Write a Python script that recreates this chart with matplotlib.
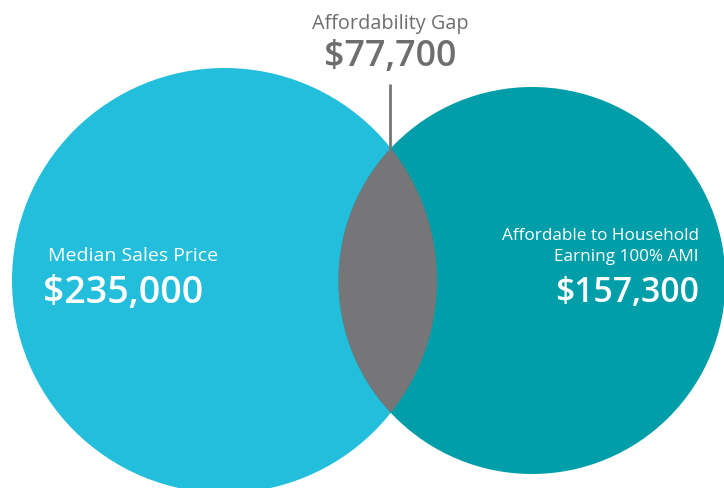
import matplotlib
matplotlib.use('Agg')
import matplotlib.pyplot as plt
from matplotlib.patches import Circle

# --- datos ---
etiquetas = ['Median Sales Price', 'Affordable to Household\nEarning 100% AMI']
valores = [235000, 157300]
etiqueta_gap = 'Affordability Gap'
gap = valores[0] - valores[1]

# --- geometria (pixeles) ---
W, H = 724, 489
c_izq = (224.5, 281.5); r_izq = 212.5
c_der = (532.0, 281.5); r_der = 193.5

col_izq = '#22bedc'
col_der = '#009ea9'
col_gap = '#767678'
col_txt = '#6d6e70'

plt.rcParams['font.family'] = ['Open Sans', 'DejaVu Sans']

fig = plt.figure(figsize=(W / 100, H / 100), dpi=100)
ax = fig.add_axes([0, 0, 1, 1])
ax.set_xlim(0, W)
ax.set_ylim(H, 0)
ax.set_aspect('equal')
ax.axis('off')

circ_izq = Circle(c_izq, r_izq, color=col_izq, lw=0)
circ_der = Circle(c_der, r_der, color=col_der, lw=0)
ax.add_patch(circ_izq)
ax.add_patch(circ_der)

# interseccion: circulo izquierdo gris recortado por el derecho
lente = Circle(c_izq, r_izq, color=col_gap, lw=0)
ax.add_patch(lente)
clip = Circle(c_der, r_der, transform=ax.transData)
lente.set_clip_path(clip)

# linea indicadora
ax.plot([390, 390], [85, 151], color=col_gap, lw=2, solid_capstyle='butt')

# textos
ax.text(390, 29, etiqueta_gap, ha='center', va='baseline', fontsize=14.3, color=col_txt)
ax.text(390, 66, f'${gap:,}', ha='center', va='baseline', fontsize=25.8,
        color=col_txt, fontweight='semibold')

ax.text(48, 261, etiquetas[0], ha='left', va='baseline', fontsize=14, color='white')
ax.text(43, 303, f'${valores[0]:,}', ha='left', va='baseline', fontsize=27,
        color='white', fontweight='semibold')

ax.text(699, 261, etiquetas[1], ha='right', va='baseline', fontsize=12.3, color='white',
        linespacing=1.45, multialignment='right')
ax.text(699, 302, f'${valores[1]:,}', ha='right', va='baseline', fontsize=24.3,
        color='white', fontweight='semibold')

fig.savefig('out.png', dpi=100)
